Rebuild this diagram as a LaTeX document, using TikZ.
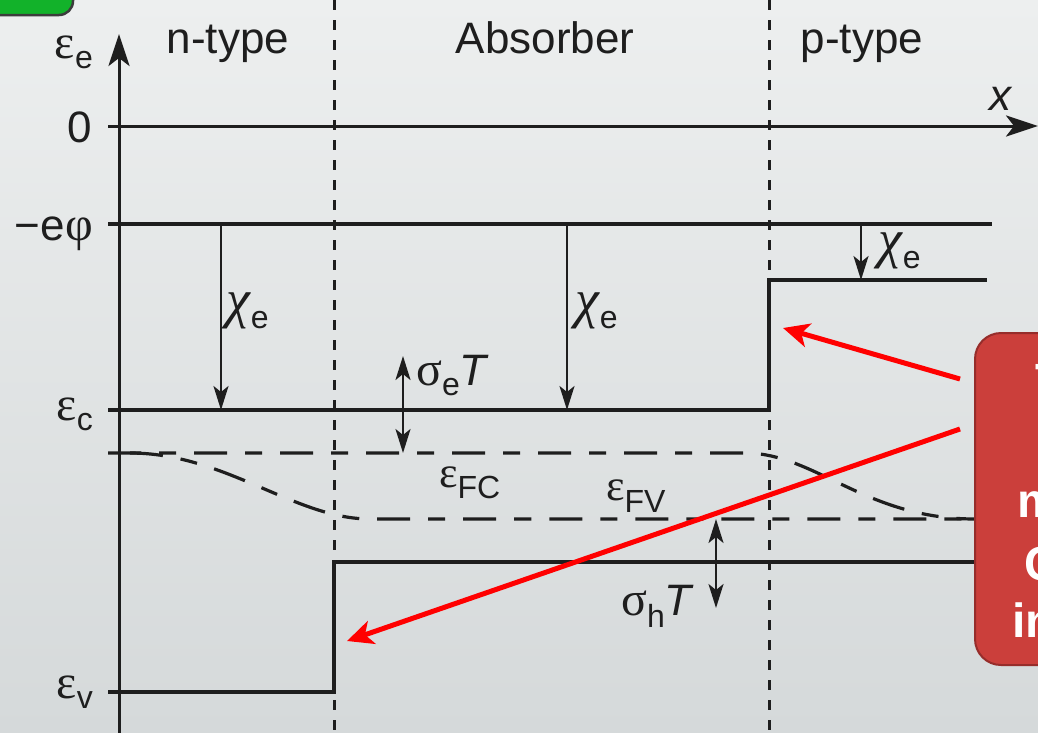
\documentclass[tikz,border=0pt]{standalone}
\usepackage{fontspec}
\setmainfont{Liberation Sans}
\newfontfamily\grk{Liberation Serif}
\usetikzlibrary{arrows.meta}
\definecolor{bgtop}{RGB}{237,239,239}
\definecolor{bgbot}{RGB}{213,217,218}
\definecolor{greenbox}{RGB}{18,178,42}
\definecolor{greenedge}{RGB}{60,60,60}
\definecolor{redbox}{RGB}{203,63,59}
\definecolor{rededge}{RGB}{150,45,43}
\definecolor{ink}{RGB}{30,30,30}
\newcommand\sbs[2][-10pt]{\raisebox{#1}{\fontsize{32}{32}\selectfont #2}}
\newcommand\gk[1]{{\grk\fontsize{48}{50}\selectfont #1}}
\newcommand\gks[1]{{\grk\fontsize{44}{46}\selectfont #1}}
\newcommand\chie{\raisebox{11pt}{\grk\itshape\fontsize{54}{56}\selectfont χ}\kern1pt{\fontsize{32}{32}\selectfont e}}
\tikzset{
  level/.style={line width=4.2pt, draw=ink},
  axisline/.style={line width=3pt, draw=ink, -{Stealth[length=32pt,width=21pt,inset=8pt]}},
  thinarrow/.style={line width=2.4pt, draw=ink, -{Stealth[length=24pt,width=15pt,inset=6pt]}},
  dblarrow/.style={line width=2.4pt, draw=ink, {Stealth[length=24pt,width=15pt,inset=6pt]}-{Stealth[length=24pt,width=15pt,inset=6pt]}},
  boundary/.style={line width=3pt, draw=ink, dash pattern=on 10pt off 10pt},
  fermi/.style={line width=3.2pt, draw=ink, dash pattern=on 33pt off 18pt on 17pt off 18pt},
  redarrow/.style={line width=5pt, draw=red, -{Stealth[length=26pt,width=24pt,inset=7pt]}},
  lbl/.style={font=\fontsize{44}{48}\selectfont, inner sep=0pt, text=ink},
  boxtext/.style={font=\fontsize{48}{52}\selectfont\bfseries, text=white, inner sep=0pt, anchor=base west},
}
\begin{document}
\begin{tikzpicture}[x=1pt,y=-1pt]
\useasboundingbox (0,0) rectangle (1038,732);
\clip (0,0) rectangle (1038,732);
\shade[top color=bgtop,bottom color=bgbot] (0,0) rectangle (1038,732);
% green tab
\draw[fill=greenbox, draw=greenedge, line width=2.5pt, rounded corners=14pt] (-30,-30) rectangle (73,15);
% region boundaries
\coordinate (bnT) at (334,0); \coordinate (bnB) at (334,732);
\coordinate (bpT) at (769,0); \coordinate (bpB) at (769,732);
\draw[boundary] (bnT) -- (bnB);
\draw[boundary] (bpT) -- (bpB);
% levels
\coordinate (phiL) at (108,224); \coordinate (phiR) at (992,224);
\draw[level] (phiL) -- (phiR);
\coordinate (cL) at (108,410); \coordinate (cS) at (769,410); \coordinate (cP) at (769,280); \coordinate (cR) at (987,280);
\draw[level] (cL) -- (cS) -- (cP) -- (cR);
\coordinate (vL) at (108,692); \coordinate (vS) at (334,692); \coordinate (vA) at (334,562); \coordinate (vR) at (1000,562);
\draw[level] (vL) -- (vS) -- (vA) -- (vR);
% quasi Fermi levels
\coordinate (fcL) at (108,453); \coordinate (fcA) at (745,453); \coordinate (fcP) at (975,519); \coordinate (fcR) at (1000,519);
\draw[fermi] (fcL) -- (fcA) .. controls (815,453) and (865,519) .. (fcP) -- (fcR);
\coordinate (fvL) at (130,453); \coordinate (fvA) at (370,519); \coordinate (fvR) at (975,519);
\draw[fermi] (fvL) .. controls (225,453) and (295,519) .. (fvA) -- (fvR);
% axes
\coordinate (axB) at (119,740); \coordinate (axT) at (119,34);
\coordinate (x0) at (108,126); \coordinate (x1) at (1038,126);
\draw[axisline] (axB) -- (axT);
\draw[axisline] (x0) -- (x1);
% chi arrows
\coordinate (k1a) at (221,224); \coordinate (k1b) at (221,410);
\coordinate (k2a) at (567,224); \coordinate (k2b) at (567,410);
\coordinate (k3a) at (861,224); \coordinate (k3b) at (861,280);
\draw[thinarrow] (k1a) -- (k1b);
\draw[thinarrow] (k2a) -- (k2b);
\draw[thinarrow] (k3a) -- (k3b);
% sigma arrows
\coordinate (s1a) at (403,356); \coordinate (s1b) at (403,453);
\coordinate (s2a) at (716,519); \coordinate (s2b) at (716,608);
\draw[dblarrow] (s1a) -- (s1b);
\draw[dblarrow] (s2a) -- (s2b);
% red callout
\coordinate (r1s) at (960,379); \coordinate (r1e) at (783,328);
\coordinate (r2s) at (960,429); \coordinate (r2e) at (347,641);
\draw[redarrow] (r1s) -- (r1e);
\draw[redarrow] (r2s) -- (r2e);
\draw[fill=redbox, draw=rededge, line width=2pt, rounded corners=26pt] (975,333) rectangle (1120,665);
\node[boxtext] (bt1) at (1035,397) {T};
\node[boxtext] (bt3) at (1017,517) {m};
\node[boxtext] (bt4) at (1024,580) {C};
\node[boxtext] (bt5) at (1012,637) {in};
% labels
\node[lbl, anchor=base] (ln) at (228,53) {n-type};
\node[lbl, anchor=base] (la) at (545,53) {Absorber};
\node[lbl, anchor=base] (lp) at (862,53) {p-type};
\node[lbl, anchor=base east] (l0) at (92,142) {0};
\node[lbl, anchor=base east] (lphi) at (93,240) {−e\gk{φ}};
\node[lbl, anchor=base east] (lee) at (93,58) {\gk{ε}\sbs{e}};
\node[lbl, anchor=base east] (lec) at (93,420) {\gk{ε}\sbs{c}};
\node[lbl, anchor=base east] (lev) at (93,698) {\gk{ε}\sbs{v}};
\node[lbl, anchor=base west] (lx) at (989,110) {\itshape x};
\node[lbl, anchor=base west] (lk1) at (226,328) {\chie};
\node[lbl, anchor=base west] (lk2) at (575,328) {\chie};
\node[lbl, anchor=base west] (lk3) at (878,268) {\chie};
\node[lbl, anchor=base west] (lse) at (416,385) {\gk{σ}\sbs{e}\itshape T};
\node[lbl, anchor=base west] (lsh) at (621,615) {\gk{σ}\sbs[-12pt]{h}\itshape T};
\node[lbl, anchor=base west] (lfc) at (439,487) {\gks{ε}\sbs[-11pt]{FC}};
\node[lbl, anchor=base west] (lfv) at (606,500) {\gks{ε}\sbs[-12pt]{FV}};
\end{tikzpicture}
\end{document}
